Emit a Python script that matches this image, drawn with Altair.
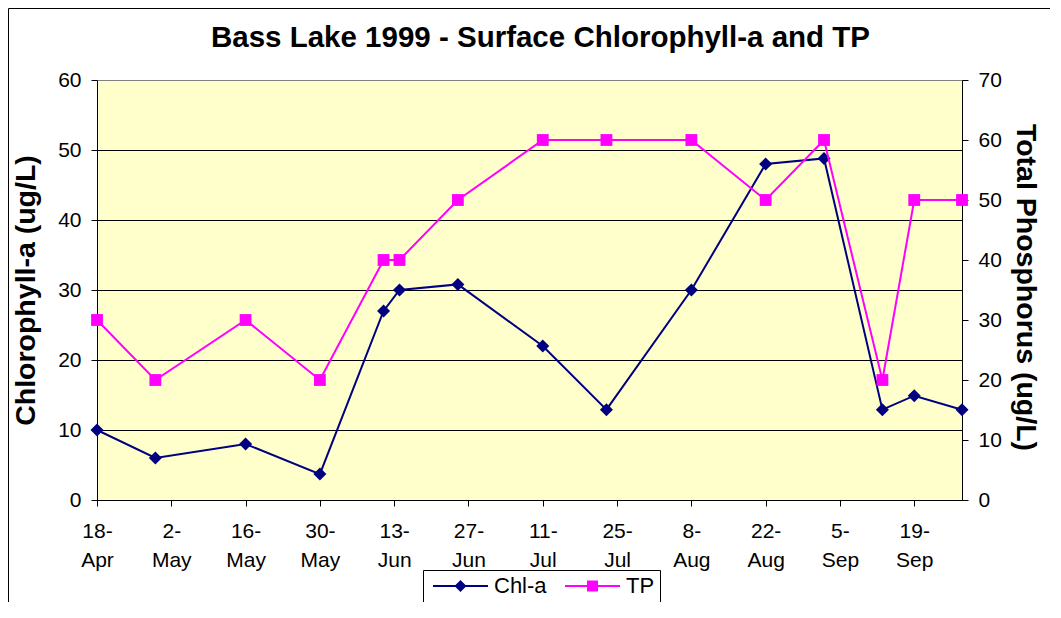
import altair as alt
import pandas as pd

FONT = "Liberation Sans"

# sampling dates (1999) and measured values
dates = ["1999-04-18", "1999-04-29", "1999-05-16", "1999-05-30", "1999-06-11",
         "1999-06-14", "1999-06-25", "1999-07-11", "1999-07-23", "1999-08-08",
         "1999-08-22", "1999-09-02", "1999-09-13", "1999-09-19", "1999-09-28"]
chl = [10, 6, 8, 3.7, 27, 30, 30.8, 22, 12.9, 30, 48, 48.8, 12.9, 14.9, 12.9]
tp = [30, 20, 30, 20, 40, 40, 50, 60, 60, 60, 50, 60, 20, 50, 50]

series_names = ["Chl-a", "TP"]
series_colors = ["#000080", "#FF00FF"]

tick_dates = [(1999, 4, 18), (1999, 5, 2), (1999, 5, 16), (1999, 5, 30), (1999, 6, 13),
              (1999, 6, 27), (1999, 7, 11), (1999, 7, 25), (1999, 8, 8), (1999, 8, 22),
              (1999, 9, 5), (1999, 9, 19)]
x_domain = [(1999, 4, 18), (1999, 9, 28)]
chl_ticks = [0, 10, 20, 30, 40, 50, 60]
tp_ticks = [0, 10, 20, 30, 40, 50, 60, 70]


def dt(t):
    return alt.DateTime(year=t[0], month=t[1], date=t[2])


df_chl = pd.DataFrame({"date": [d + "T00:00:00" for d in dates], "value": chl,
                       "series": series_names[0]})
df_tp = pd.DataFrame({"date": [d + "T00:00:00" for d in dates], "value": tp,
                      "series": series_names[1]})
df_legend = pd.DataFrame({"series": series_names})

# legend symbols: a thin bar (line) with the marker in the middle, all filled
BAR = "M-2.75,-0.1L2.75,-0.1L2.75,0.1L-2.75,0.1Z"
DIAMOND = BAR + "M-0.6,0L0,-0.6L0.6,0L0,0.6Z"
SQUARE = BAR + "M-0.55,-0.55L0.55,-0.55L0.55,0.55L-0.55,0.55Z"

legend = alt.Legend(
    orient="none", legendX=326, legendY=490, direction="horizontal", title=None,
    strokeColor="black", fillColor="white", padding=5,
    symbolSize=400, symbolStrokeWidth=0, symbolOffset=21.5, symbolOpacity=1,
    labelOffset=22.5, columnPadding=13, labelFontSize=22, labelColor="black",
    labelFont=FONT,
)

color_scale = alt.Scale(domain=series_names, range=series_colors)
color_nolegend = alt.Color("series:N", scale=color_scale, legend=None)

x_enc = alt.X(
    "date:T",
    scale=alt.Scale(domain=[dt(x_domain[0]), dt(x_domain[1])], nice=False),
    axis=alt.Axis(
        values=[dt(t) for t in tick_dates],
        labelExpr="[timeFormat(datum.value, '%-d') + '-', timeFormat(datum.value, '%b')]",
        labelFontSize=21, labelColor="black", labelFont=FONT, labelLineHeight=29,
        labelPadding=14, labelAngle=0, labelAlign="center", labelOverlap=False,
        tickColor="black", tickSize=6, domainColor="black", domainWidth=1, grid=False,
        title=None,
    ),
)

y_chl = alt.Y(
    "value:Q",
    scale=alt.Scale(domain=[0, 60], nice=False),
    axis=alt.Axis(
        orient="left", values=chl_ticks, grid=True,
        gridColor={"condition": {"test": "datum.value == 60", "value": "#808080"}, "value": "black"},
        gridWidth=1, domainColor="black", domainWidth=1, tickColor="black", tickSize=6,
        labelFontSize=21, labelPadding=10, labelColor="black", labelFont=FONT,
        title="Chlorophyll-a (ug/L)", titleFontSize=28.5, titleFontWeight="bold",
        titleColor="black", titleFont=FONT, titleAngle=270, titleX=-63, titleY=210,
        titleAlign="center", titleBaseline="alphabetic",
    ),
)

y_tp = alt.Y(
    "value:Q",
    scale=alt.Scale(domain=[0, 70], nice=False),
    axis=alt.Axis(
        orient="right", values=tp_ticks, grid=False,
        domainColor="black", domainWidth=1, tickColor="black", tickSize=6,
        labelFontSize=21, labelPadding=10, labelColor="black", labelFont=FONT,
        title="Total Phosphorus (ug/L)", titleFontSize=28.5, titleFontWeight="bold",
        titleColor="black", titleFont=FONT, titleAngle=90, titleX=54, titleY=207,
        titleAlign="center", titleBaseline="alphabetic",
    ),
)

chl_line = alt.Chart(df_chl).mark_line(strokeWidth=2).encode(x=x_enc, y=y_chl, color=color_nolegend)
chl_pts = alt.Chart(df_chl).mark_point(filled=True, shape="diamond", size=170, opacity=1).encode(
    x=x_enc, y=y_chl, color=color_nolegend)

tp_line = alt.Chart(df_tp).mark_line(strokeWidth=2).encode(x=x_enc, y=y_tp, color=color_nolegend)
tp_pts = alt.Chart(df_tp).mark_point(filled=True, shape="square", size=140, opacity=1).encode(
    x=x_enc, y=y_tp, color=color_nolegend)

# legend-only layer (no marks drawn: all rows filtered out)
legend_layer = alt.Chart(df_legend).mark_point(filled=True, strokeWidth=0).encode(
    color=alt.Color("series:N", scale=color_scale, legend=legend),
    shape=alt.Shape("series:N", scale=alt.Scale(domain=series_names, range=[DIAMOND, SQUARE]),
                    legend=legend),
).transform_filter("datum.series == 'none'")

frame = alt.Chart(pd.DataFrame({"k": [0]})).mark_rect(
    fillOpacity=0, stroke="black", strokeWidth=1
).encode(x=alt.value(-88.5), y=alt.value(-71.5), x2=alt.value(1100), y2=alt.value(700))

chart = alt.layer(
    legend_layer,
    frame,
    alt.layer(chl_line, chl_pts),
    alt.layer(tp_line, tp_pts),
).resolve_scale(y="independent").properties(
    width=865, height=420,
    autosize=alt.AutoSizeParams(type="none"),
    padding={"left": 89, "top": 72, "right": 88, "bottom": 102},
    title=alt.Title("Bass Lake 1999 - Surface Chlorophyll-a and TP", fontSize=29.5,
                    fontWeight="bold", font=FONT, color="black", anchor="middle",
                    frame="group", baseline="alphabetic", offset=0, dx=11, dy=68),
).configure(font=FONT).configure_view(fill="#FFFFCC", stroke="#808080", strokeWidth=1)

chart.save("out.html", embed_options={"renderer": "svg", "actions": False})
